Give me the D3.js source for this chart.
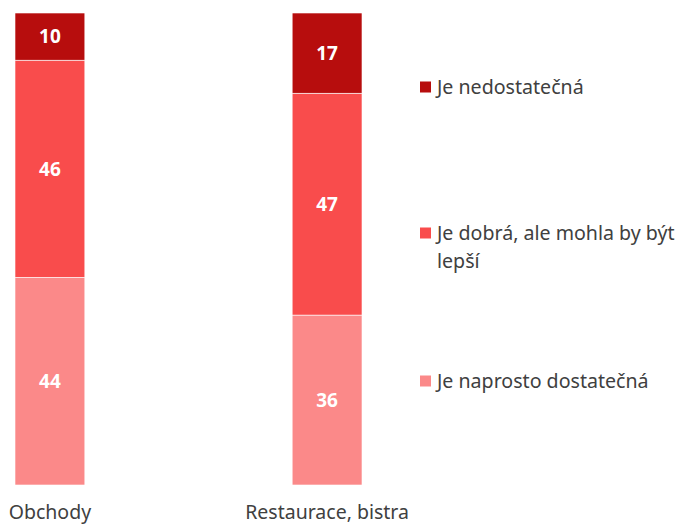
<!DOCTYPE html>
<html>
<head>
<meta charset="utf-8">
<script src="https://cdn.jsdelivr.net/npm/d3@7"></script>
<style>
  body { margin: 0; background: #ffffff; }
  svg { display: block; font-family: "Noto Sans", "Open Sans", sans-serif; }
</style>
</head>
<body>
<div id="chart"></div>
<script>
// categories and series (percent)
const categories = ["Obchody", "Restaurace, bistra"];
const series = ["Je naprosto dostatečná", "Je dobrá, ale mohla by být lepší", "Je nedostatečná"];
const naprosto = [44, 36];
const dobra = [46, 47];
const nedostatecna = [10, 17];
const colors = ["#fb8989", "#f94c4c", "#b70d0d"];

const width = 680, height = 524;

const svg = d3.select("#chart").append("svg")
    .attr("width", width)
    .attr("height", height);

const x = d3.scaleBand()
    .domain(categories)
    .range([15, 362])
    .paddingInner(0.748)
    .paddingOuter(0);

const y = d3.scaleLinear()
    .domain([0, 100])
    .range([485, 13]);

const rows = categories.map((c, i) => ({
    cat: c,
    [series[0]]: naprosto[i],
    [series[1]]: dobra[i],
    [series[2]]: nedostatecna[i]
}));

const stacked = d3.stack().keys(series)(rows);

const layer = svg.append("g")
    .selectAll("g")
    .data(stacked)
    .enter().append("g")
    .attr("fill", (d, i) => colors[i]);

layer.selectAll("rect")
    .data(d => d)
    .enter().append("rect")
    .attr("x", d => x(d.data.cat))
    .attr("width", x.bandwidth())
    .attr("y", d => y(d[1]))
    .attr("height", d => y(d[0]) - y(d[1]))
    .attr("stroke", "#ffffff")
    .attr("stroke-width", 0.6);

layer.selectAll("text")
    .data(d => d)
    .enter().append("text")
    .attr("x", d => x(d.data.cat) + x.bandwidth() / 2)
    .attr("y", d => (y(d[0]) + y(d[1])) / 2)
    .attr("dy", "0.36em")
    .attr("text-anchor", "middle")
    .attr("fill", "#ffffff")
    .attr("font-weight", "bold")
    .attr("font-size", "19px")
    .text(d => d[1] - d[0]);

// category labels
svg.append("g")
    .selectAll("text")
    .data(categories)
    .enter().append("text")
    .attr("x", d => x(d) + x.bandwidth() / 2)
    .attr("y", 519)
    .attr("text-anchor", "middle")
    .attr("fill", "#404040")
    .attr("font-size", "19.5px")
    .text(d => d);

// legend
const legendItems = [
    { lines: ["Je nedostatečná"], color: colors[2], y: 87 },
    { lines: ["Je dobrá, ale mohla by být", "lepší"], color: colors[1], y: 233 },
    { lines: ["Je naprosto dostatečná"], color: colors[0], y: 381 }
];

const lg = svg.append("g")
    .selectAll("g")
    .data(legendItems)
    .enter().append("g")
    .attr("transform", d => `translate(420, ${d.y})`);

lg.append("rect")
    .attr("x", 0)
    .attr("y", -5.5)
    .attr("width", 11)
    .attr("height", 11)
    .attr("fill", d => d.color);

lg.append("text")
    .attr("fill", "#404040")
    .attr("font-size", "19.6px")
    .selectAll("tspan")
    .data(d => d.lines)
    .enter().append("tspan")
    .attr("x", 17)
    .attr("y", (d, i) => i * 28)
    .attr("dy", "0.36em")
    .text(d => d);
</script>
</body>
</html>
